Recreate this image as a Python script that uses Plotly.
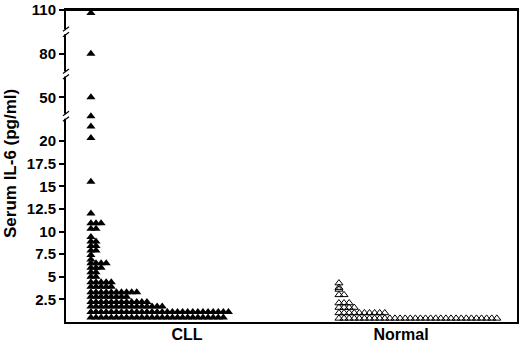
import plotly.graph_objects as go

# ---------------- data ----------------
groups = ["CLL", "Normal"]

cll_il6 = [
    108, 80, 50, 37, 30, 22,
    15.5, 12.0,
    10.9, 10.9, 10.9,
    10.3, 10.3,
    9.4,
    8.9, 8.9,
    8.4, 8.4,
    7.9, 7.9,
    7.4, 6.9,
    6.5, 6.5, 6.5, 6.5,
    6.0, 6.0, 6.0,
    5.5, 5.5,
    5.0, 5.0,
    4.4, 4.4, 4.4, 4.4, 4.4,
    3.9, 3.9, 3.9, 3.9, 3.9,
    3.3, 3.3, 3.3, 3.3, 3.3, 3.3, 3.3, 3.3, 3.3, 3.3,
    2.8, 2.8, 2.8, 2.8, 2.8, 2.8, 2.8, 2.8,
    2.2, 2.2, 2.2, 2.2, 2.2, 2.2, 2.2, 2.2, 2.2, 2.2, 2.2, 2.2,
    1.7, 1.7, 1.7, 1.7, 1.7, 1.7, 1.7, 1.7, 1.7, 1.7, 1.7, 1.7, 1.7, 1.7, 1.7,
    1.1, 1.1, 1.1, 1.1, 1.1, 1.1, 1.1, 1.1, 1.1, 1.1, 1.1, 1.1, 1.1, 1.1,
    1.1, 1.1, 1.1, 1.1, 1.1, 1.1, 1.1, 1.1, 1.1, 1.1, 1.1, 1.1, 1.1, 1.1,
    0.5, 0.5, 0.5, 0.5, 0.5, 0.5, 0.5, 0.5, 0.5, 0.5, 0.5, 0.5, 0.5, 0.5,
    0.5, 0.5, 0.5, 0.5, 0.5, 0.5, 0.5, 0.5, 0.5, 0.5, 0.5, 0.5, 0.5,
]

normal_il6 = [
    4.3, 3.8, 3.6,
    3.0, 3.0,
    2.1, 2.1, 2.1,
    1.6, 1.6, 1.6, 1.6,
    1.0, 1.0, 1.0, 1.0, 1.0, 1.0, 1.0, 1.0, 1.0, 1.0,
    0.4, 0.4, 0.4, 0.4, 0.4, 0.4, 0.4, 0.4, 0.4, 0.4, 0.4,
    0.4, 0.4, 0.4, 0.4, 0.4, 0.4, 0.4, 0.4, 0.4, 0.4, 0.4,
    0.4, 0.4, 0.4, 0.4, 0.4, 0.4, 0.4, 0.4, 0.4, 0.4,
]

low_ticks = [2.5, 5, 7.5, 10, 12.5, 15, 17.5, 20]
low_tick_text = ["2.5", "5", "7.5", "10", "12.5", "15", "17.5", "20"]
high_ticks = [50, 80, 110]
high_tick_text = ["50", "80", "110"]
break_values = [37, 66, 95]

# ---------------- layout parameters ----------------
BREAK_AT = 20
STEP = 0.0238              # horizontal step between side-by-side points
START = {"CLL": -0.449, "Normal": -0.290}
FONT = "Liberation Sans, Arial, sans-serif"
TOP, BOTTOM = 10, 22


def dot_positions(values, gpos, start):
    counts = {}
    xs = []
    for v in values:
        k = counts.get(v, 0)
        counts[v] = k + 1
        xs.append(gpos + start + k * STEP)
    return xs


fig = go.Figure()
styles = {
    "CLL": dict(symbol="triangle-up", size=8, color="black", line=dict(width=0)),
    "Normal": dict(symbol="triangle-up-open", size=7, color="black", line=dict(width=1, color="black")),
}
for gi, (name, vals) in enumerate([("CLL", cll_il6), ("Normal", normal_il6)]):
    gpos = gi + 1
    xs = dot_positions(vals, gpos, START[name])
    lo = [(x, v) for x, v in zip(xs, vals) if v <= BREAK_AT]
    hi = [(x, v) for x, v in zip(xs, vals) if v > BREAK_AT]
    if lo:
        fig.add_trace(go.Scatter(x=[p[0] for p in lo], y=[p[1] for p in lo], mode="markers",
                                 marker=styles[name], yaxis="y", cliponaxis=False,
                                 showlegend=False, name=name))
    if hi:
        fig.add_trace(go.Scatter(x=[p[0] for p in hi], y=[p[1] for p in hi], mode="markers",
                                 marker=styles[name], yaxis="y2", cliponaxis=False,
                                 showlegend=False, name=name))

plot_h = 344 - TOP - BOTTOM
split = 181 / plot_h

axis_common = dict(showgrid=False, zeroline=False, showline=True, linecolor="black",
                   linewidth=2, mirror=True, ticks="outside",
                   ticklen=5, tickwidth=1.5, tickcolor="black", automargin=False,
                   tickfont=dict(family=FONT, size=15, color="black", weight=700))

fig.update_layout(
    width=520, height=344,
    margin=dict(l=66, r=3, t=TOP, b=BOTTOM),
    paper_bgcolor="white", plot_bgcolor="white",
    font=dict(family=FONT, color="black"),
    xaxis=dict(range=[0.4346, 2.542], tickvals=[1, 2], ticktext=groups, automargin=False,
               showgrid=False, zeroline=False, showline=True, linecolor="black", linewidth=2,
               ticks="", ticklabelstandoff=-3,
               tickfont=dict(family=FONT, size=16, color="black", weight=700)),
    xaxis2=dict(overlaying="x", matches="x", anchor="y2", side="top", showline=True,
                linecolor="black", linewidth=2, showticklabels=False, ticks="",
                showgrid=False, zeroline=False, automargin=False),
    yaxis=dict(domain=[0, split], range=[0, 20], tickvals=low_ticks,
               ticktext=low_tick_text, **axis_common),
    yaxis2=dict(domain=[split, 1], range=[20, 110.001], tickvals=high_ticks,
                ticktext=high_tick_text, anchor="x", **axis_common),
)
# invisible trace to activate the top axis
fig.add_trace(go.Scatter(x=[1], y=[50], xaxis="x2", yaxis="y2", mode="markers",
                         marker=dict(opacity=0), showlegend=False, hoverinfo="skip"))

shapes = [dict(type="line", xref="paper", yref="paper", x0=0, x1=1, y0=1, y1=1,
               line=dict(color="black", width=2), layer="above")]
for bv in break_values:
    shapes.append(dict(type="line", xref="paper", yref="y2", xsizemode="pixel", ysizemode="pixel",
                       xanchor=0, yanchor=bv, x0=0, x1=0, y0=-2.5, y1=2.5,
                       line=dict(color="white", width=4), layer="above"))
    shapes.append(dict(type="line", xref="paper", yref="y2", xsizemode="pixel", ysizemode="pixel",
                       xanchor=0, yanchor=bv, x0=-3, x1=3, y0=-5, y1=-0.5,
                       line=dict(color="black", width=1.2), layer="above"))
    shapes.append(dict(type="line", xref="paper", yref="y2", xsizemode="pixel", ysizemode="pixel",
                       xanchor=0, yanchor=bv, x0=-3, x1=3, y0=0.5, y1=5,
                       line=dict(color="black", width=1.2), layer="above"))
fig.update_layout(shapes=shapes)

fig.add_annotation(text="Serum IL-6 (pg/ml)", xref="paper", yref="paper",
                   x=(10 - 66) / 451, y=(322 - 164) / plot_h, xanchor="center", yanchor="middle",
                   textangle=-90, showarrow=False,
                   font=dict(family=FONT, size=17, color="black", weight=700))

fig.write_html("out.html", config={"displayModeBar": False},
               post_script="document.body.style.margin='0';")
